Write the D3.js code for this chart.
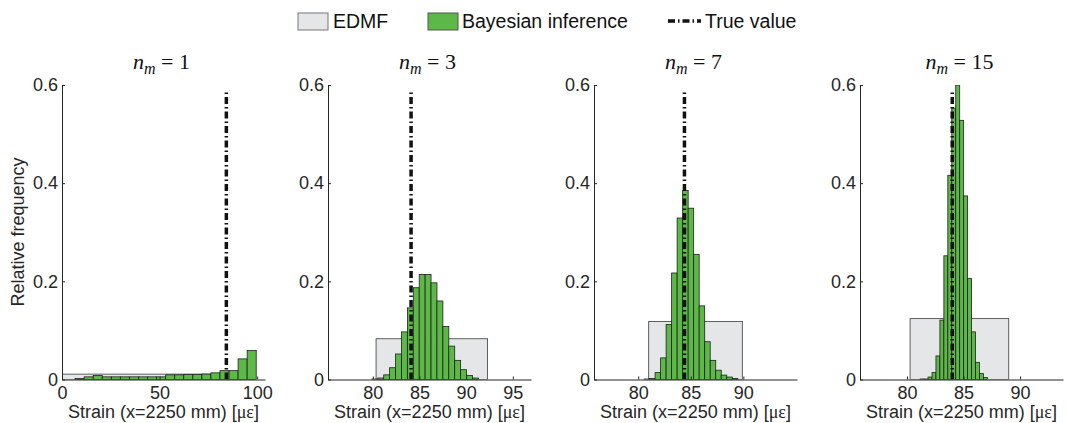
<!DOCTYPE html>
<html lang="en">
<head>
<meta charset="UTF-8">
<title>EDMF vs Bayesian inference</title>
<script src="https://d3js.org/d3.v7.min.js"></script>
<style>
    body { margin: 0; background: #fff; }
    svg { display: block; font-family: 'Liberation Sans', Arial, sans-serif; }
    .axis path, .axis line { stroke: #262626; }
    .axis text { fill: #262626; font-size: 18px; font-family: 'Liberation Sans', Arial, sans-serif; }
</style>
</head>
<body>
<svg width="1067" height="423"></svg>
<script>
    // number of measurements per panel
    const nMeasurements = ["1", "3", "7", "15"];

    // x-axis limits and ticks, per panel
    const xDomains = [[0, 104], [75.2, 96.95], [75.8, 95.1], [75.84, 93.8]];
    const xTicks = [[0, 50, 100], [80, 85, 90, 95], [80, 85, 90], [80, 85, 90]];
    const yTicks = [0, 0.2, 0.4, 0.6];

    // EDMF candidate range (uniform) and its relative frequency
    const edmfRanges = [[0, 99], [80.35, 92.3], [81.0, 89.9], [80.27, 89.0]];
    const edmfHeights = [0.011, 0.083, 0.118, 0.124];

    // Bayesian inference histogram: first bin edge, bin width, frequencies
    const binStarts = [6.7, 79.9, 80.56, 81.16];
    const binWidths = [4.64, 0.634, 0.524, 0.35];
    const bayes1 = [0.002, 0.0054, 0.008, 0.0054, 0.0054, 0.0054, 0.0054, 0.0054, 0.0054, 0.0054,
                    0.0095, 0.0095, 0.010, 0.010, 0.011, 0.0136, 0.018, 0.018, 0.042, 0.059];
    const bayes3 = [0.001, 0.003, 0.0095, 0.024, 0.052, 0.097, 0.146, 0.187, 0.214, 0.214,
                    0.197, 0.16, 0.108, 0.068, 0.039, 0.020, 0.008, 0.003];
    const bayes7 = [0.001, 0.002, 0.014, 0.044, 0.112, 0.217, 0.329, 0.385, 0.349, 0.255,
                    0.150, 0.077, 0.039, 0.019, 0.009, 0.005, 0.002];
    const bayes15 = [0.001, 0.001, 0.005, 0.014, 0.048, 0.121, 0.252, 0.416, 0.553, 0.60,
                     0.528, 0.374, 0.206, 0.097, 0.035, 0.012, 0.004];
    const bayesFreqs = [bayes1, bayes3, bayes7, bayes15];

    // true strain value as drawn in each panel
    const trueValues = [84.2, 84.1, 84.4, 84.0];

    const svg = d3.select("svg");
    const axTop = 85, axBottom = 379.5, axWidth = 203;
    const axLefts = [62, 328, 594, 860];
    const green = "#5cb947";
    const grey = "#e5e6e8";

    const y = d3.scaleLinear().domain([0, 0.6]).range([axBottom, axTop]);

    svg.append("defs").selectAll("clipPath")
        .data(axLefts).enter()
        .append("clipPath").attr("id", (d, i) => "clip" + i)
        .append("rect")
        .attr("x", d => d).attr("y", axTop)
        .attr("width", axWidth).attr("height", axBottom - axTop);

    axLefts.forEach((left, i) => {
        const x = d3.scaleLinear().domain(xDomains[i]).range([left, left + axWidth]);
        const g = svg.append("g");
        const plot = g.append("g").attr("clip-path", `url(#clip${i})`);

        // EDMF uniform box
        plot.append("rect")
            .attr("x", x(edmfRanges[i][0]))
            .attr("y", y(edmfHeights[i]))
            .attr("width", x(edmfRanges[i][1]) - x(edmfRanges[i][0]))
            .attr("height", y(0) - y(edmfHeights[i]))
            .attr("fill", grey)
            .attr("stroke", "#3a3a3a")
            .attr("stroke-width", 0.8);

        // Bayesian histogram
        const bins = bayesFreqs[i].map((f, j) => ({
            x0: binStarts[i] + j * binWidths[i],
            x1: binStarts[i] + (j + 1) * binWidths[i],
            f: f
        }));
        plot.selectAll(".bar").data(bins).enter()
            .append("rect")
            .attr("class", "bar")
            .attr("x", d => x(d.x0))
            .attr("y", d => y(d.f))
            .attr("width", d => x(d.x1) - x(d.x0))
            .attr("height", d => y(0) - y(d.f))
            .attr("fill", green)
            .attr("stroke", "#1f1f1f")
            .attr("stroke-width", 0.8);

        // true value
        plot.append("path")
            .datum([[trueValues[i], 0], [trueValues[i], 0.59]])
            .attr("d", d3.line().x(d => x(d[0])).y(d => y(d[1])))
            .attr("stroke", "#111")
            .attr("stroke-width", 3.5)
            .attr("stroke-dasharray", "7,3,1.5,3")
            .attr("fill", "none");

        // axes
        g.append("g").attr("class", "axis")
            .attr("transform", `translate(0,${axBottom})`)
            .call(d3.axisBottom(x).tickValues(xTicks[i]).tickSizeInner(-3).tickSizeOuter(0).tickPadding(7));
        g.append("g").attr("class", "axis")
            .attr("transform", `translate(${left},0)`)
            .call(d3.axisLeft(y).tickValues(yTicks).tickSizeInner(-3).tickSizeOuter(0).tickPadding(4)
                .tickFormat(d => d === 0 ? "0" : d3.format(".1f")(d)));

        // x label
        const xl = g.append("text")
            .attr("x", left + axWidth / 2)
            .attr("y", 418)
            .attr("text-anchor", "middle")
            .attr("font-size", 18)
            .attr("fill", "#262626");
        xl.append("tspan").text("Strain (x=2250 mm) [");
        xl.append("tspan").attr("font-family", "'Liberation Serif', serif").text("με");
        xl.append("tspan").text("]");

        // title
        const t = g.append("text")
            .attr("x", left + axWidth / 2 - 2)
            .attr("y", 69)
            .attr("text-anchor", "middle")
            .attr("font-family", "'Liberation Serif', 'Times New Roman', serif")
            .attr("font-size", 22)
            .attr("fill", "#111");
        t.append("tspan").attr("font-style", "italic").text("n");
        t.append("tspan").attr("font-style", "italic").attr("font-size", 16).attr("dy", 5).text("m");
        t.append("tspan").attr("dy", -5).text(" = " + nMeasurements[i]);
    });

    // y label
    svg.append("text")
        .attr("transform", "translate(24,232) rotate(-90)")
        .attr("text-anchor", "middle")
        .attr("font-size", 18)
        .attr("fill", "#262626")
        .text("Relative frequency");

    // legend
    const legend = svg.append("g").attr("font-size", 19.5).attr("fill", "#111");
    legend.append("rect").attr("x", 298).attr("y", 13).attr("width", 30).attr("height", 17)
        .attr("fill", grey).attr("stroke", "#777").attr("stroke-width", 1);
    legend.append("text").attr("x", 333).attr("y", 28).text("EDMF");
    legend.append("rect").attr("x", 428).attr("y", 13).attr("width", 30).attr("height", 17)
        .attr("fill", green).attr("stroke", "#555").attr("stroke-width", 1);
    legend.append("text").attr("x", 462).attr("y", 28).text("Bayesian inference");
    legend.append("line").attr("x1", 668).attr("x2", 701).attr("y1", 21).attr("y2", 21)
        .attr("stroke", "#111").attr("stroke-width", 3.5).attr("stroke-dasharray", "7,3,1.5,3");
    legend.append("text").attr("x", 705).attr("y", 28).text("True value");
</script>
</body>
</html>
